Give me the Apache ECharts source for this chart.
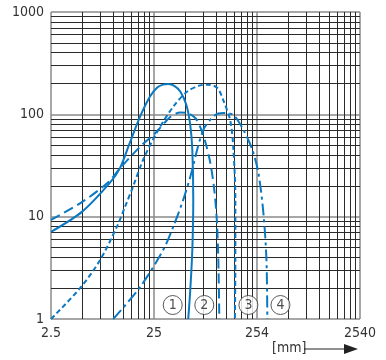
<!DOCTYPE html>
<html><head><meta charset="utf-8">
<script src="https://cdn.jsdelivr.net/npm/echarts@6/dist/echarts.min.js"></script>
<style>html,body{margin:0;padding:0;background:#fff}#c{width:386px;height:360px}</style>
</head><body><div id="c"></div>
<script>
// tick labels
const xTickLabels = ['2.5', '25', '254', '2540'];   // mm at 0.1, 1, 10, 100 inch
const yTickLabels = ['1', '10', '100', '1000'];
// curve 1 (solid), x in mm
const c1X = [2.54, 5.1, 9.5, 11.9, 14.5, 18.6, 23.3, 27.3, 31.0, 34.9, 40.0, 45.7, 52.3, 57.1, 59.8, 61.1, 59.8, 57.1, 54.6];
const c1Y = [7.1, 11.2, 21.5, 30, 50, 95, 150, 183, 195, 198, 190, 167, 124, 79, 45, 14.6, 4.7, 1.9, 1];
// curve 2 (long dash)
const c2X = [2.54, 4.86, 8.9, 11.9, 18.6, 26.1, 36.5, 45.7, 53.4, 63.9, 71.5, 80, 89.5, 97.8, 103.4, 107, 109.4];
const c2Y = [9.3, 13.5, 21.2, 29.7, 48.3, 65.3, 94, 104, 103, 92, 75, 53.6, 33.5, 18.2, 9.3, 3.8, 1];
// curve 3 (short dash)
const c3X = [2.54, 4.86, 7.61, 11.1, 13.3, 15.9, 19.9, 27.3, 39.1, 53.4, 71.5, 85.5, 104.6, 120, 140, 150, 156.6, 156.6, 155];
const c3Y = [1, 2.0, 3.77, 8.0, 12.5, 19.7, 35.8, 67.7, 119, 167, 192, 195, 181, 136, 86, 45, 14.6, 3.8, 1];
// curve 4 (dash-dot)
const c4X = [10.2, 18.6, 31.2, 39.1, 48.8, 57.1, 76.5, 100, 119.7, 149.7, 187.4, 229, 262, 293, 313.7, 320];
const c4Y = [1, 2.05, 4.73, 8.0, 14.6, 24.4, 70.4, 98.7, 103, 98.7, 70.4, 44.9, 26.7, 10.9, 3.8, 1];
// circled curve labels
const tagText = ['1', '2', '3', '4'];
const tagX = [38.6, 78.2, 209.6, 429];
const tagY = [1.37, 1.37, 1.37, 1.37];

const MM_PER_IN = 25.4;
const BLUE = '#0b78c2';
const toPts = (xs, ys) => xs.map((x, i) => [x / MM_PER_IN, ys[i]]);

const vLines = [], hLines = [];
[-1, 0, 1].forEach(n => { for (let k = 2; k <= 9; k++) vLines.push({ xAxis: k * Math.pow(10, n) }); });
[0, 1, 2].forEach(n => { for (let k = 2; k <= 9; k++) hLines.push({ yAxis: k * Math.pow(10, n) }); });

const FONT = "'Liberation Sans Narrow', 'DejaVu Sans Condensed', 'Liberation Sans', sans-serif";

const curve = (name, xs, ys, type) => ({
  name, type: 'line', data: toPts(xs, ys), smooth: 0.3, symbol: 'none', z: 5,
  lineStyle: { color: BLUE, width: 2, type: type }, silent: true
});

const chart = echarts.init(document.getElementById('c'), null, { renderer: 'canvas' });
chart.setOption({
  animation: false,
  grid: { left: 51, right: 26, top: 12, bottom: 41 },
  xAxis: {
    type: 'log', min: 0.1, max: 100, logBase: 10,
    axisLine: { show: false }, axisTick: { show: false },
    axisLabel: { color: '#333', fontFamily: FONT, fontSize: 14, margin: 7,
      formatter: v => xTickLabels[Math.round(Math.log10(v)) + 1] },
    splitLine: { show: true, lineStyle: { color: '#8a8a8a', width: 1.5 } }
  },
  yAxis: {
    type: 'log', min: 1, max: 1000, logBase: 10,
    axisLine: { show: false }, axisTick: { show: false },
    axisLabel: { color: '#333', fontFamily: FONT, fontSize: 14, margin: 7,
      formatter: v => yTickLabels[Math.round(Math.log10(v))] },
    splitLine: { show: true, lineStyle: { color: '#8a8a8a', width: 1.5 } }
  },
  series: [
    { type: 'line', data: [[1, 10]], symbol: 'none', lineStyle: { opacity: 0 }, z: 1, silent: true,
      markLine: { silent: true, symbol: 'none', animation: false, label: { show: false },
        lineStyle: { color: '#2a2a2a', width: 1, type: 'solid' },
        data: vLines.concat(hLines) } },
    curve('1', c1X, c1Y, 'solid'),
    curve('2', c2X, c2Y, [10, 5]),
    curve('3', c3X, c3Y, [5, 3]),
    curve('4', c4X, c4Y, [12, 4, 3, 4]),
    { type: 'scatter', z: 8, silent: true,
      data: tagX.map((x, i) => [x / MM_PER_IN, tagY[i], tagText[i]]),
      symbol: 'circle', symbolSize: 19,
      itemStyle: { color: '#fff', borderColor: '#333', borderWidth: 1 },
      label: { show: true, position: 'inside', formatter: p => p.data[2],
        color: '#222', fontFamily: FONT, fontSize: 14 } }
  ],
  graphic: [
    { type: 'text', left: 272, top: 341, style: { text: '[mm]', fill: '#333', font: "14px " + FONT } },
    { type: 'line', shape: { x1: 304, y1: 349, x2: 346, y2: 349 }, style: { stroke: '#222', lineWidth: 1 } },
    { type: 'polygon', shape: { points: [[344, 344], [358, 349], [344, 354]] }, style: { fill: '#222' } }
  ]
});
</script></body></html>
